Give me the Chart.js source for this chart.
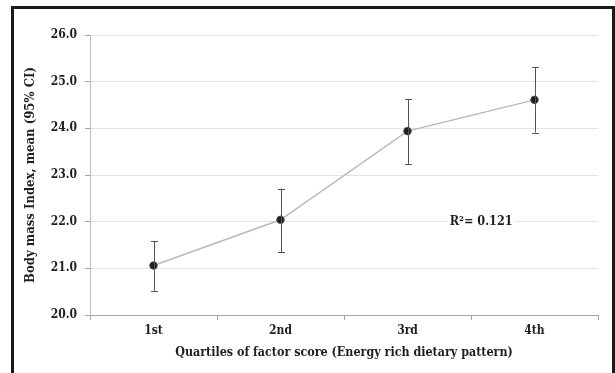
<!DOCTYPE html>
<html>
<head>
<meta charset="utf-8">
<script src="https://cdn.jsdelivr.net/npm/chart.js@4"></script>
<style>
  html, body { margin: 0; padding: 0; background: #fff; }
  .wrap { position: relative; width: 615px; height: 373px; overflow: hidden; }
  .frame {
    position: absolute; left: 11px; top: 6px; width: 598px; height: 400px;
    border: 3px solid #1a1a1a; border-bottom: none; pointer-events: none;
  }
</style>
</head>
<body>
<div class="wrap">
  <canvas id="bmiChart" width="615" height="373"></canvas>
  <div class="frame"></div>
</div>
<script>
const quartiles = ['1st', '2nd', '3rd', '4th'];
const bmiMean = [21.06, 22.04, 23.94, 24.61];
const ciLower = [20.52, 21.34, 23.23, 23.91];
const ciUpper = [21.59, 22.71, 24.63, 25.31];
const yTicks = [20, 21, 22, 23, 24, 25, 26];
const rSquared = 'R\u00B2= 0.121';

const serif = '"DejaVu Serif Condensed", "DejaVu Serif", serif';
const textColor = '#1f1f1f';

// error bars + R² note, drawn after the datasets
const errorBars = {
  id: 'errorBars',
  afterDatasetsDraw(chart) {
    const { ctx, scales: { x, y } } = chart;
    ctx.save();
    ctx.strokeStyle = '#555';
    ctx.lineWidth = 1;
    quartiles.forEach((q, i) => {
      const px = Math.round(x.getPixelForValue(i)) + 0.5;
      const top = y.getPixelForValue(ciUpper[i]);
      const bot = y.getPixelForValue(ciLower[i]);
      ctx.beginPath();
      ctx.moveTo(px, top); ctx.lineTo(px, bot);
      ctx.moveTo(px - 3.5, Math.round(top) + 0.5); ctx.lineTo(px + 3.5, Math.round(top) + 0.5);
      ctx.moveTo(px - 3.5, Math.round(bot) + 0.5); ctx.lineTo(px + 3.5, Math.round(bot) + 0.5);
      ctx.stroke();
    });
    ctx.restore();
  },
  afterDraw(chart) {
    const { ctx, scales: { x, y } } = chart;
    const step = x.getPixelForValue(1) - x.getPixelForValue(0);
    const tx = x.getPixelForValue(2) + step * 0.58;
    const ty = y.getPixelForValue(22);
    ctx.save();
    ctx.font = 'bold 12.5px ' + serif;
    const w = ctx.measureText(rSquared).width;
    ctx.fillStyle = '#fff';
    ctx.fillRect(tx - w / 2 - 2, ty - 7, w + 4, 14);
    ctx.fillStyle = textColor;
    ctx.textAlign = 'center';
    ctx.textBaseline = 'middle';
    ctx.fillText(rSquared, tx, ty);
    ctx.restore();
  }
};

new Chart(document.getElementById('bmiChart'), {
  type: 'line',
  data: {
    labels: quartiles,
    datasets: [{
      data: bmiMean,
      borderColor: '#b9b9b9',
      borderWidth: 1.5,
      tension: 0,
      pointRadius: 3.8,
      pointBackgroundColor: '#1e1e1e',
      pointBorderColor: '#555',
      pointBorderWidth: 1
    }]
  },
  options: {
    responsive: false,
    animation: false,
    layout: { padding: { top: 35, right: 17, bottom: 0, left: 0 } },
    plugins: { legend: { display: false }, tooltip: { enabled: false } },
    scales: {
      x: {
        offset: true,
        afterFit: (s) => { s.height = 58; },
        grid: { offset: true, drawOnChartArea: false, tickLength: 5, tickColor: '#a6a6a6' },
        border: { color: '#a6a6a6' },
        ticks: { color: textColor, padding: 4, font: { family: serif, size: 12, weight: 'bold' } },
        title: {
          display: true,
          text: 'Quartiles of factor score (Energy rich dietary pattern)',
          color: textColor,
          padding: { top: 0, bottom: 12.5 },
          font: { family: serif, size: 12.4, weight: 'bold' }
        }
      },
      y: {
        min: yTicks[0],
        max: yTicks[yTicks.length - 1],
        afterFit: (s) => { s.width = 90; },
        afterBuildTicks: (s) => { s.ticks = yTicks.map(v => ({ value: v })); },
        grid: { color: '#e4e4e4', tickLength: 5, tickColor: '#a6a6a6' },
        border: { color: '#bdbdbd' },
        ticks: {
          color: textColor, padding: 8,
          font: { family: serif, size: 12, weight: 'bold' },
          callback: (v) => Number(v).toFixed(1)
        },
        title: {
          display: true,
          text: 'Body mass Index, mean (95% CI)',
          color: textColor,
          padding: { top: 23.2, bottom: 0 },
          font: { family: serif, size: 13, weight: 'bold' }
        }
      }
    }
  },
  plugins: [errorBars]
});
</script>
</body>
</html>
